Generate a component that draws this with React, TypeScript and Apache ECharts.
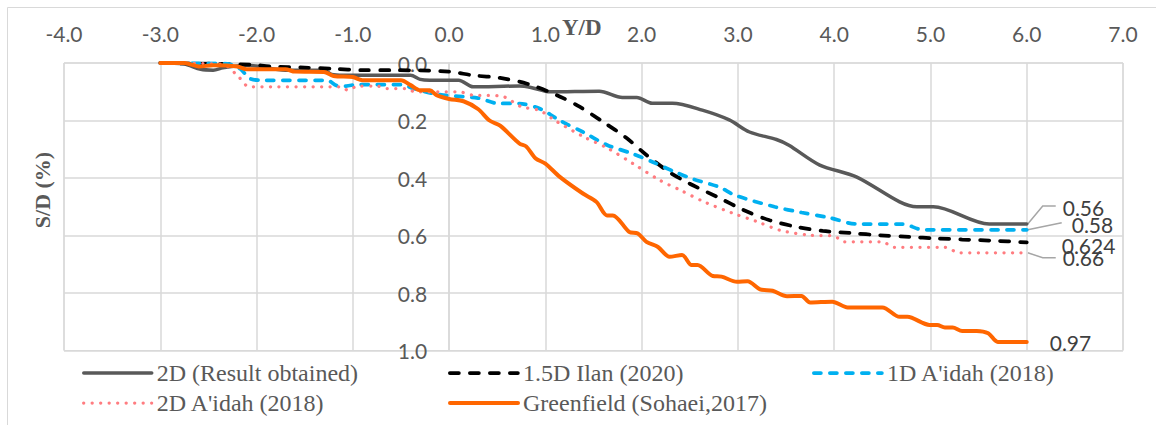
import React, { useEffect, useRef } from 'react';
import * as echarts from 'echarts';

const seriesNames = [
  '2D (Result obtained)',
  '1.5D Ilan (2020)',
  "1D A'idah (2018)",
  "2D A'idah (2018)",
  'Greenfield (Sohaei,2017)',
];

const gray2D: [number, number][] = [
  [-3.0, 0], [-2.76, 0.003], [-2.58, 0.022], [-2.45, 0.025], [-2.35, 0.017], [-2.2, 0.01],
  [-2.1, 0.008], [-1.7, 0.025], [-1.3, 0.025], [-1.22, 0.04], [-1.1, 0.043], [-0.4, 0.043],
  [-0.3, 0.057], [-0.2, 0.06], [0.1, 0.06], [0.25, 0.083], [0.73, 0.08], [0.85, 0.085],
  [1.05, 0.1], [1.56, 0.098], [1.8, 0.12], [1.95, 0.12], [2.11, 0.14], [2.32, 0.14],
  [2.63, 0.164], [2.91, 0.198], [3.12, 0.24], [3.4, 0.266], [3.53, 0.286], [3.85, 0.355],
  [4.23, 0.396], [4.68, 0.483], [4.86, 0.5], [5.03, 0.5], [5.61, 0.56], [6.0, 0.56],
];

const ilan15D: [number, number][] = [
  [-3.0, 0], [-2.4, 0.003], [-2.05, 0.006], [-1.85, 0.012], [-1.5, 0.016], [-1.2, 0.02],
  [-0.9, 0.025], [-0.6, 0.025], [0.0, 0.03], [0.25, 0.043], [0.53, 0.052], [0.81, 0.072],
  [1.12, 0.112], [1.36, 0.153], [1.6, 0.205], [1.84, 0.26], [2.05, 0.32], [2.29, 0.38],
  [2.5, 0.42], [2.81, 0.47], [3.05, 0.51], [3.33, 0.547], [3.61, 0.57], [3.88, 0.584],
  [4.19, 0.592], [4.47, 0.599], [4.78, 0.605], [5.06, 0.61], [5.33, 0.614], [5.65, 0.618],
  [6.0, 0.624],
];

const aidah1D: [number, number][] = [
  [-3.0, 0], [-2.3, 0.003], [-2.17, 0.02], [-2.07, 0.054], [-1.94, 0.06], [-1.27, 0.06],
  [-1.15, 0.08], [-1.07, 0.08], [-0.96, 0.075], [-0.48, 0.075], [-0.38, 0.088], [-0.1, 0.11],
  [0.3, 0.122], [0.5, 0.14], [0.73, 0.141], [0.95, 0.16], [1.15, 0.2], [1.39, 0.24],
  [1.64, 0.285], [1.91, 0.316], [2.12, 0.345], [2.34, 0.378], [2.53, 0.403], [2.81, 0.432],
  [2.97, 0.46], [3.38, 0.5], [3.66, 0.52], [3.95, 0.538], [4.23, 0.56], [4.71, 0.56],
  [4.92, 0.58], [6.0, 0.58],
];

const aidah2D: [number, number][] = [
  [-3.0, 0], [-2.35, 0.005], [-2.2, 0.043], [-2.07, 0.083], [-1.12, 0.083], [-1.05, 0.095],
  [-0.95, 0.08], [-0.75, 0.08], [-0.65, 0.089], [-0.45, 0.089], [-0.35, 0.1], [0.1, 0.1],
  [0.25, 0.112], [0.53, 0.114], [0.75, 0.152], [0.94, 0.165], [1.1, 0.2], [1.4, 0.257],
  [1.65, 0.297], [1.91, 0.35], [2.19, 0.408], [2.4, 0.442], [2.65, 0.483], [2.95, 0.523],
  [3.2, 0.552], [3.45, 0.583], [3.75, 0.599], [4.0, 0.602], [4.1, 0.622], [4.5, 0.622],
  [4.62, 0.641], [5.15, 0.641], [5.3, 0.66], [6.0, 0.66],
];

const greenfield: [number, number][] = [
  [-3.0, 0], [-2.75, 0], [-2.6, 0.012], [-2.45, 0.008], [-2.2, 0.012], [-2.1, 0.022],
  [-1.7, 0.022], [-1.6, 0.03], [-1.3, 0.031], [-1.2, 0.045], [-1.0, 0.049], [-0.9, 0.06],
  [-0.5, 0.06], [-0.4, 0.077], [-0.3, 0.095], [-0.2, 0.095], [-0.13, 0.112], [0.0, 0.125],
  [0.15, 0.133], [0.3, 0.16], [0.42, 0.2], [0.53, 0.218], [0.73, 0.28], [0.8, 0.29],
  [0.9, 0.332], [1.0, 0.35], [1.15, 0.396], [1.39, 0.454], [1.53, 0.483], [1.64, 0.53],
  [1.7, 0.53], [1.87, 0.587], [1.96, 0.593], [2.05, 0.622], [2.17, 0.64], [2.29, 0.674],
  [2.42, 0.668], [2.52, 0.703], [2.58, 0.703], [2.74, 0.741], [2.83, 0.743], [2.99, 0.761],
  [3.1, 0.759], [3.23, 0.787], [3.36, 0.792], [3.51, 0.811], [3.66, 0.81], [3.75, 0.833],
  [3.98, 0.83], [4.14, 0.85], [4.5, 0.85], [4.68, 0.883], [4.76, 0.883], [4.99, 0.911],
  [5.07, 0.911], [5.15, 0.92], [5.23, 0.92], [5.33, 0.932], [5.48, 0.932], [5.6, 0.94],
  [5.7, 0.97], [6.0, 0.97],
];

const LABEL_FONT = 'Lato';
const SERIF = '"Liberation Serif", "Times New Roman", serif';

export default function App() {
  const ref = useRef<HTMLDivElement>(null);

  useEffect(() => {
    if (!ref.current) return;
    const chart = echarts.init(ref.current, null, { renderer: 'svg' });

    const styles = [
      { color: '#595959', width: 3.5, type: 'solid' as any, offset: [36, -17] },
      { color: '#000000', width: 3.75, type: [9, 11] as any, offset: [35, 3] },
      { color: '#00B0F0', width: 3.75, type: [7, 9] as any, offset: [45, -5] },
      { color: '#FF7C80', width: 3.25, type: [0.1, 8.4] as any, offset: [36, 5] },
      { color: '#FF6600', width: 4, type: 'solid' as any, offset: [23, 1] },
    ];
    const datasets = [gray2D, ilan15D, aidah1D, aidah2D, greenfield];

    const series = seriesNames.map((name, i) => ({
      name,
      type: 'line',
      data: datasets[i],
      symbol: 'none',
      smooth: 0.3,
      z: 2 + i,
      lineStyle: { color: styles[i].color, width: styles[i].width, type: styles[i].type, cap: 'round' },
      itemStyle: { color: styles[i].color },
      emphasis: { disabled: true },
      endLabel: {
        show: true,
        formatter: (p: any) => String(p.value[1]),
        offset: styles[i].offset,
        distance: 0,
        fontFamily: LABEL_FONT,
        fontSize: 21,
        color: '#404040',
        align: 'left',
        verticalAlign: 'middle',
      },
    }));

    const baseGraphic: any[] = [
      {
        id: 'frame',
        type: 'rect',
        shape: { x: 7.5, y: 7.5, width: 1300, height: 600 },
        style: { fill: 'none', stroke: '#d9d9d9', lineWidth: 1 },
        silent: true,
      },
      {
        id: 'xname',
        type: 'text',
        x: 562,
        y: 27,
        style: {
          text: 'Y/D',
          font: 'bold 23px "Liberation Serif", serif',
          fill: '#595959',
          align: 'left',
          verticalAlign: 'middle',
          textAlign: 'left',
          textVerticalAlign: 'middle',
        },
      },
      {
        id: 'yname',
        type: 'text',
        x: 42,
        y: 190,
        rotation: Math.PI / 2,
        style: {
          text: 'S/D (%)',
          font: 'bold 22px "Liberation Serif", serif',
          fill: '#595959',
          align: 'center',
          verticalAlign: 'middle',
          textAlign: 'center',
          textVerticalAlign: 'middle',
        },
      },
    ];

    const legendPos: [number, number][] = [
      [82, 361], [448, 361], [812, 361], [82, 391], [448, 391],
    ];

    const yAxisBase = {
      type: 'value',
      min: 0,
      max: 1,
      interval: 0.2,
      inverse: true,
      position: 'left',
      axisLine: { show: true, onZero: false, lineStyle: { color: '#d9d9d9', width: 1.5 } },
      axisTick: { show: false },
      axisLabel: {
        formatter: (v: number) => v.toFixed(1),
        fontFamily: LABEL_FONT,
        fontSize: 21,
        color: '#595959',
        margin: 22,
        showMinLabel: true,
        showMaxLabel: true,
      },
      splitLine: { show: true, lineStyle: { color: '#d9d9d9', width: 1.5 } },
    };

    chart.setOption({
      animation: false,
      backgroundColor: '#ffffff',
      grid: {
        left: 64,
        top: 63,
        width: 1059,
        height: 287.5,
        show: true,
        borderColor: '#d9d9d9',
        borderWidth: 1,
        containLabel: false,
      },
      xAxis: {
        type: 'value',
        min: -4,
        max: 7,
        interval: 1,
        position: 'top',
        axisLine: { show: false, onZero: false },
        axisTick: { show: false },
        axisLabel: {
          formatter: (v: number) => v.toFixed(1),
          fontFamily: LABEL_FONT,
          fontSize: 21,
          color: '#595959',
          margin: 19,
          showMinLabel: true,
          showMaxLabel: true,
        },
        splitLine: { show: true, lineStyle: { color: '#d9d9d9', width: 1.5 } },
      },
      yAxis: yAxisBase,
      legend: seriesNames.map((n, i) => ({
        data: [n],
        left: legendPos[i][0],
        top: legendPos[i][1],
        padding: 0,
        itemGap: 0,
        itemWidth: 68,
        itemHeight: 14,
        selectedMode: false,
        itemStyle: { opacity: 0, color: 'rgba(0,0,0,0)', borderWidth: 0 },
        lineStyle: { width: styles[i].width },
        textStyle: { fontFamily: SERIF, fontSize: 24, color: '#595959' },
      })),
      series,
      graphic: baseGraphic,
    });

    const pt = (d: [number, number]) =>
      chart.convertToPixel({ gridIndex: 0 }, d) as unknown as number[];
    const left = pt([-4, 0]);
    const zero = pt([0, 0]);
    const g = pt(gray2D[gray2D.length - 1]);
    const b = pt(aidah1D[aidah1D.length - 1]);
    const p = pt(aidah2D[aidah2D.length - 1]);
    const leaderStyle = { stroke: '#a6a6a6', lineWidth: 1.5, fill: 'none' };

    chart.setOption({
      yAxis: { ...yAxisBase, offset: -(zero[0] - left[0]) },
      graphic: [
        ...baseGraphic,
        {
          id: 'lead1',
          type: 'polyline',
          shape: { points: [[g[0] + 1, g[1]], [g[0] + 16, g[1] - 18], [g[0] + 29, g[1] - 18]] },
          style: leaderStyle,
          silent: true,
        },
        {
          id: 'lead2',
          type: 'polyline',
          shape: { points: [[b[0] + 1, b[1]], [b[0] + 35, b[1] - 7]] },
          style: leaderStyle,
          silent: true,
        },
        {
          id: 'lead3',
          type: 'polyline',
          shape: { points: [[p[0] + 1, p[1]], [p[0] + 16, p[1] + 5], [p[0] + 29, p[1] + 5]] },
          style: leaderStyle,
          silent: true,
        },
      ],
    });

    return () => chart.dispose();
  }, []);

  return (
    <div
      ref={ref}
      style={{ position: 'fixed', left: 0, top: 0, width: 1156, height: 425 }}
    />
  );
}
